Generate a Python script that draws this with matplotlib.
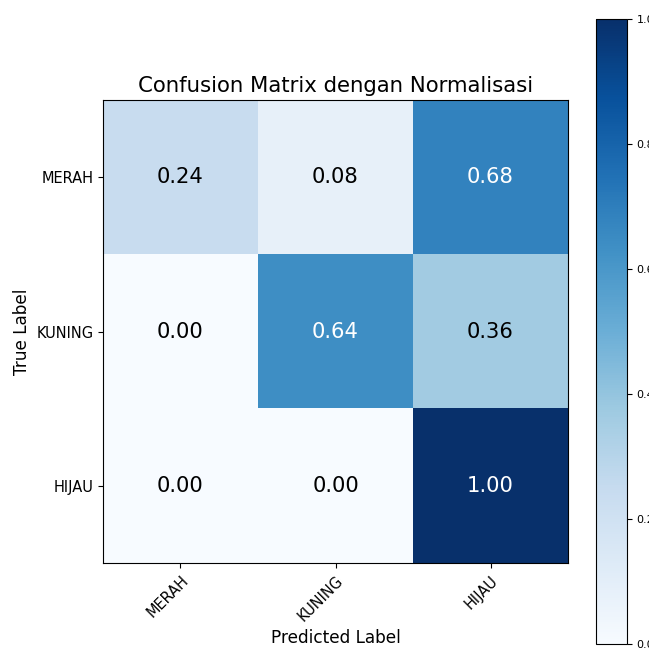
import numpy as np
from matplotlib import pyplot as plt

classes = ['MERAH', 'KUNING', 'HIJAU']
cm_values = [
    [0.24, 0.08, 0.68],
    [0.00, 0.64, 0.36],
    [0.00, 0.00, 1.00],
]

cm = np.array(cm_values)

fig = plt.figure(figsize=(6.49, 6.49), dpi=100)
ax = fig.add_axes([0.1587, 0.1325, 0.7165, 0.7134])
cax = fig.add_axes([0.9183, 0.0077, 0.0478, 0.963])

im = ax.imshow(cm, interpolation='nearest', cmap=plt.cm.Blues, vmin=0, vmax=1, aspect='auto')
cb = fig.colorbar(im, cax=cax)
cb.ax.tick_params(labelsize=8)

ax.set_title('Confusion Matrix dengan Normalisasi', fontsize=15.3)
ticks = np.arange(len(classes))
ax.set_xticks(ticks)
ax.set_xticklabels(classes, rotation=45, ha='right', rotation_mode='anchor', fontsize=10.5)
ax.set_yticks(ticks)
ax.set_yticklabels(classes, fontsize=10.5)

thresh = cm.max() / 2.
for i in range(cm.shape[0]):
    for j in range(cm.shape[1]):
        ax.text(j, i, format(cm[i, j], '.2f'),
                ha='center', va='center', fontsize=15.2,
                color='white' if cm[i, j] > thresh else 'black')

ax.set_ylabel('True Label', fontsize=12.2)
ax.set_xlabel('Predicted Label', fontsize=12.2)

fig.savefig('out.png', dpi=100)
